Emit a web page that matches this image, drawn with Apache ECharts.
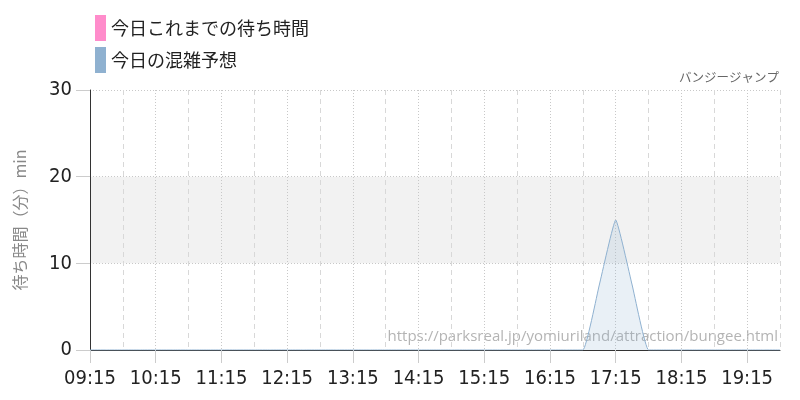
<!DOCTYPE html>
<html>
<head>
<meta charset="utf-8">
<script src="https://cdn.jsdelivr.net/npm/echarts@6/dist/echarts.min.js"></script>
<style>html,body{margin:0;padding:0;background:#fff}#c{width:800px;height:400px}</style>
</head>
<body>
<div id="c"></div>
<script>
var times = ['09:15','09:30','09:45','10:00','10:15','10:30','10:45','11:00','11:15','11:30','11:45','12:00','12:15','12:30','12:45','13:00','13:15','13:30','13:45','14:00','14:15','14:30','14:45','15:00','15:15','15:30','15:45','16:00','16:15','16:30','16:45','17:00','17:15','17:30','17:45','18:00','18:15','18:30','18:45','19:00','19:15','19:30','19:45'];
var actualWait = [];
var forecastWait = [0,0,0,0,0,0,0,0,0,0,0,0,0,0,0,0,0,0,0,0,0,0,0,0,0,0,0,0,0,0,0,7.5,15,7.5,0,0,0,0,0,0,0,0,0];
var yTicks = [0,10,20,30];
var seriesNames = ['今日これまでの待ち時間','今日の混雑予想'];
var titleText = 'バンジージャンプ';
var yAxisName = '待ち時間（分）min';
var sourceUrl = 'https://parksreal.jp/yomiuriland/attraction/bungee.html';

var numFont = "'Liberation Sans Narrow','DejaVu Sans Condensed','Roboto Condensed',Roboto,sans-serif";
var chart = echarts.init(document.getElementById('c'));
chart.setOption({
  animation: false,
  title: {text: titleText, right: 16, top: 66, textStyle: {fontFamily: 'Noto Sans CJK JP', fontSize: 12.5, fontWeight: 'normal', color: '#666'}},
  legend: {
    orient: 'vertical', left: 90, top: 10, itemWidth: 11, itemHeight: 26, itemGap: 6,
    icon: 'rect',
    textStyle: {fontFamily: 'Noto Sans CJK JP', fontSize: 18, color: '#222', padding: [0,0,0,0]},
    data: seriesNames
  },
  grid: {left: 90, right: 20, top: 90, bottom: 50},
  xAxis: [{
    type: 'category', data: times, boundaryGap: false,
    axisLine: {lineStyle: {color: '#333', width: 1}},
    axisTick: {interval: 3, length: 13, lineStyle: {color: '#ccc'}},
    axisLabel: {interval: 3, fontFamily: numFont, fontSize: 20, color: '#222', margin: 19},
    splitLine: {show: true, interval: function(i){return i % 4 === 0;}, lineStyle: {color: '#c8c8c8', type: [1,2]}}
  },{
    type: 'category', data: times, boundaryGap: false, position: 'bottom',
    axisLine: {show: false}, axisTick: {show: false}, axisLabel: {show: false},
    splitLine: {show: true, interval: function(i){return i % 4 === 2;}, lineStyle: {color: '#d8d8d8', type: [5,4]}}
  }],
  yAxis: {
    type: 'value', min: 0, max: 30, interval: 10,
    name: yAxisName, nameLocation: 'middle', nameGap: 62,
    nameTextStyle: {fontFamily: 'Noto Sans CJK JP', fontSize: 16, color: '#888'},
    axisLine: {show: true, lineStyle: {color: '#333', width: 1}},
    axisTick: {show: true, length: 14, lineStyle: {color: '#ccc'}},
    axisLabel: {fontFamily: numFont, fontSize: 20, color: '#222', margin: 18,
      formatter: function(v){return yTicks.indexOf(v) >= 0 ? String(v) : '';}},
    splitLine: {lineStyle: {color: '#c8c8c8', type: [1,2]}},
    splitArea: {show: true, areaStyle: {color: ['rgba(0,0,0,0)','#f2f2f2','rgba(0,0,0,0)']}}
  },
  series: [{
    name: seriesNames[0], type: 'line', data: actualWait, color: '#ff8ccb',
    symbol: 'none', lineStyle: {width: 1.5}
  },{
    name: seriesNames[1], type: 'line', data: forecastWait, color: '#8fb1d0',
    smooth: 0.12, symbol: 'none', lineStyle: {width: 1, color: '#8fb1d0'},
    areaStyle: {color: 'rgba(143,177,208,0.28)'}
  }],
  graphic: [{
    type: 'text', right: 22, top: 329,
    style: {text: sourceUrl, fontFamily: 'Open Sans', fontSize: 15, fill: '#b4b4b4'}
  }]
});
</script>
</body>
</html>
